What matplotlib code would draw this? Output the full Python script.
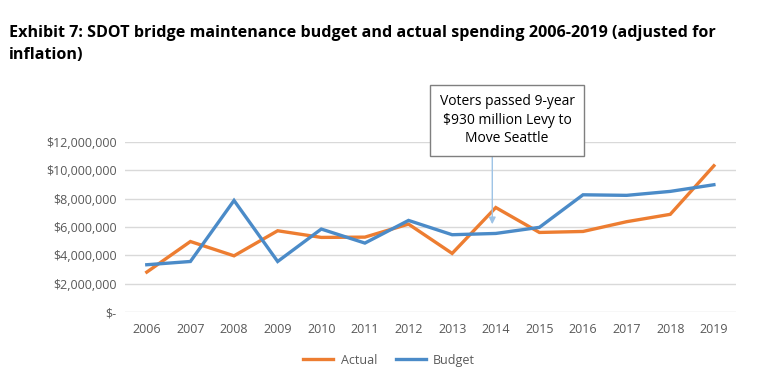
import matplotlib.pyplot as plt
from matplotlib.ticker import FuncFormatter

plt.rcParams["font.family"] = ["Open Sans", "DejaVu Sans"]

years = [2006, 2007, 2008, 2009, 2010, 2011, 2012, 2013, 2014, 2015, 2016, 2017, 2018, 2019]
actual = [2.82e6, 4.98e6, 3.97e6, 5.74e6, 5.27e6, 5.29e6, 6.21e6, 4.14e6, 7.38e6, 5.62e6, 5.69e6, 6.38e6, 6.90e6, 10.33e6]
budget = [3.34e6, 3.57e6, 7.88e6, 3.57e6, 5.86e6, 4.87e6, 6.47e6, 5.46e6, 5.55e6, 5.98e6, 8.28e6, 8.24e6, 8.52e6, 8.99e6]

ORANGE = "#ED7D31"
BLUE = "#4B8BC8"
GRAY = "#595959"


def money(v, pos):
    if v == 0:
        return "$-"
    return f"${v:,.0f}"


def main():
    fig = plt.figure(figsize=(7.83, 3.81), dpi=100)
    ax = fig.add_axes([0.1596, 0.181, 0.78, 0.446])

    x = list(range(len(years)))
    ax.plot(x, actual, color=ORANGE, lw=2.4, label="Actual", solid_joinstyle="miter")
    ax.plot(x, budget, color=BLUE, lw=2.4, label="Budget", solid_joinstyle="miter")

    ax.set_xlim(-0.5, len(years) - 0.5)
    ax.set_ylim(0, 12e6)
    ax.set_yticks([0, 2e6, 4e6, 6e6, 8e6, 10e6, 12e6])
    ax.yaxis.set_major_formatter(FuncFormatter(money))
    ax.set_xticks(x)
    ax.set_xticklabels([str(y) for y in years])
    ax.tick_params(length=0, labelsize=9, labelcolor=GRAY, pad=8)
    ax.tick_params(axis="y", pad=6)
    ax.grid(axis="y", color="#D9D9D9", lw=1)
    ax.set_axisbelow(True)
    for s in ax.spines.values():
        s.set_visible(False)

    # levy annotation
    ax.text(8.26, 13.56e6, "Voters passed 9-year\n$930 million Levy to\nMove Seattle",
            ha="center", va="center", fontsize=10, color="#000000", linespacing=1.3,
            clip_on=False, zorder=5,
            bbox=dict(boxstyle="square,pad=0.7", fc="white", ec="#7F7F7F", lw=1))
    ax.annotate("", xy=(7.92, 6.2e6), xytext=(7.92, 11.29e6),
                arrowprops=dict(arrowstyle="-|>", color="#9DC3E6", lw=1,
                                mutation_scale=10, shrinkA=0, shrinkB=0))

    fig.text(0.011, 0.935, "Exhibit 7: SDOT bridge maintenance budget and actual spending 2006-2019 (adjusted for\ninflation)",
             fontsize=11.6, fontweight="bold", color="#000000", va="top", ha="left", linespacing=1.55)

    fig.legend(loc="center", bbox_to_anchor=(0.497, 0.055), ncol=2, frameon=False,
               fontsize=9, labelcolor=GRAY, handlelength=2.4, handletextpad=0.6,
               columnspacing=1.5)

    fig.savefig("out.png", dpi=100)
    plt.close(fig)


if __name__ == "__main__":
    main()
